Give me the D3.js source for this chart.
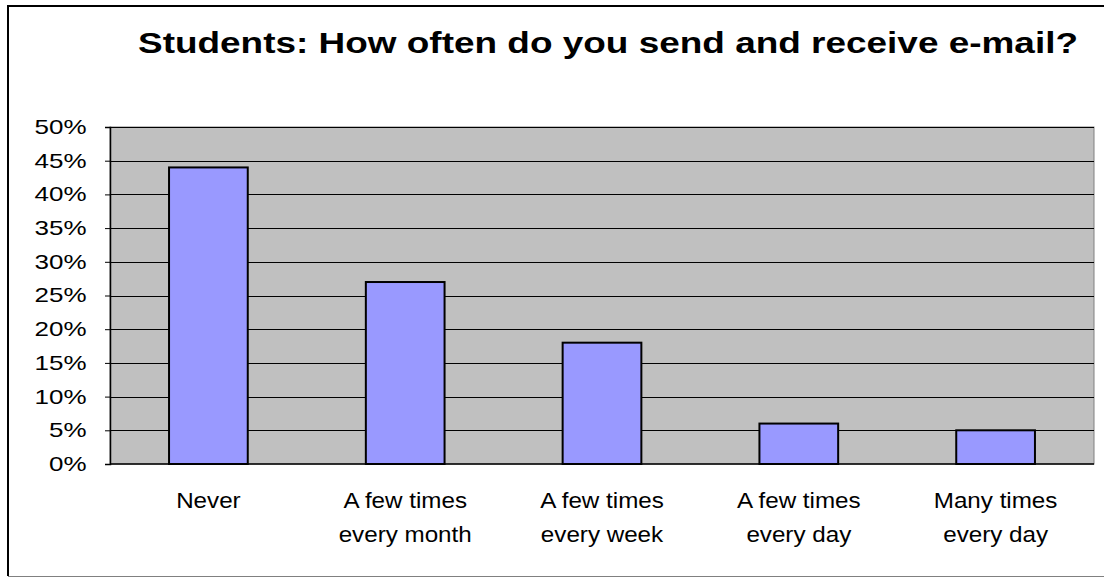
<!DOCTYPE html>
<html>
<head>
<meta charset="utf-8">
<script src="https://cdn.jsdelivr.net/npm/d3@7"></script>
<style>
  body { margin: 0; background: #fff; }
  svg { display: block; font-family: "Liberation Sans", Arial, sans-serif; }
</style>
</head>
<body>
<div id="viz"></div>
<script>
const categories = [
  ["Never"],
  ["A few times", "every month"],
  ["A few times", "every week"],
  ["A few times", "every day"],
  ["Many times", "every day"]
];
const shares = [0.44, 0.27, 0.18, 0.06, 0.05];
const yTicks = [0, 0.05, 0.10, 0.15, 0.20, 0.25, 0.30, 0.35, 0.40, 0.45, 0.50];
const title = "Students: How often do you send and receive e-mail?";

const width = 1104;
const height = 577;
const plot = { left: 110, right: 1094, top: 127, bottom: 464 };
const stretch = 1.3; // reference text is wider than it is tall

const svg = d3.select('#viz').append('svg')
    .attr('width', width)
    .attr('height', height);

// outer frame
svg.append('rect')
    .attr('x', 8.5).attr('y', 5.5)
    .attr('width', 1110).attr('height', 571)
    .attr('fill', 'white')
    .attr('stroke', '#808080')
    .attr('stroke-width', 1);
svg.append('line')
    .attr('x1', 8).attr('x2', 1104).attr('y1', 6).attr('y2', 6)
    .attr('stroke', 'black').attr('stroke-width', 2);
svg.append('line')
    .attr('x1', 8).attr('x2', 8).attr('y1', 5).attr('y2', 576)
    .attr('stroke', 'black').attr('stroke-width', 2);

svg.append('text')
    .attr('x', 138).attr('y', 53)
    .attr('font-size', '29px')
    .attr('font-weight', 'bold')
    .attr('textLength', 940)
    .attr('lengthAdjust', 'spacingAndGlyphs')
    .text(title);

const x = d3.scaleBand()
    .domain(d3.range(categories.length))
    .range([plot.left, plot.right])
    .paddingInner(0.6)
    .paddingOuter(0.3);

const y = d3.scaleLinear()
    .domain([0, 0.5])
    .range([plot.bottom, plot.top]);

// plot background
svg.append('rect')
    .attr('x', plot.left).attr('y', plot.top)
    .attr('width', plot.right - plot.left)
    .attr('height', plot.bottom - plot.top)
    .attr('fill', '#c0c0c0')
    .attr('stroke', '#808080')
    .attr('stroke-width', 1);

// gridlines
svg.append('g')
    .selectAll('line')
    .data(yTicks.slice(1))
    .join('line')
    .attr('x1', plot.left).attr('x2', plot.right)
    .attr('y1', d => Math.round(y(d)) + 0.5)
    .attr('y2', d => Math.round(y(d)) + 0.5)
    .attr('stroke', 'black')
    .attr('stroke-width', 1);

// bars
svg.append('g')
    .selectAll('rect')
    .data(shares)
    .join('rect')
    .attr('x', (d, i) => x(i))
    .attr('width', x.bandwidth())
    .attr('y', d => y(d))
    .attr('height', d => y(0) - y(d))
    .attr('fill', '#9999ff')
    .attr('stroke', 'black')
    .attr('stroke-width', 2);

// y axis
const yAxis = svg.append('g')
    .attr('transform', `translate(${plot.left},0)`)
    .call(d3.axisLeft(y).tickValues(yTicks).tickSize(5).tickPadding(13)
        .tickFormat(d3.format('.0%')));
yAxis.select('.domain').attr('stroke', 'black').attr('stroke-width', 1.5);
yAxis.selectAll('.tick line').attr('stroke', 'black');
yAxis.selectAll('text')
    .attr('font-size', '20px')
    .attr('fill', 'black')
    .attr('transform', `scale(${stretch},1)`)
    .attr('font-family', '"Liberation Sans", Arial, sans-serif');

// x axis baseline
svg.append('line')
    .attr('x1', plot.left).attr('x2', plot.right)
    .attr('y1', plot.bottom).attr('y2', plot.bottom)
    .attr('stroke', 'black').attr('stroke-width', 1.5);

// category labels
svg.append('g')
    .selectAll('text')
    .data(categories)
    .join('text')
    .attr('transform', (d, i) => `translate(${x(i) + x.bandwidth() / 2},508) scale(1.1,1)`)
    .attr('text-anchor', 'middle')
    .attr('font-size', '22px')
    .selectAll('tspan')
    .data(d => d)
    .join('tspan')
    .attr('x', 0)
    .attr('dy', (d, i) => i === 0 ? 0 : 34)
    .text(d => d);
</script>
</body>
</html>
